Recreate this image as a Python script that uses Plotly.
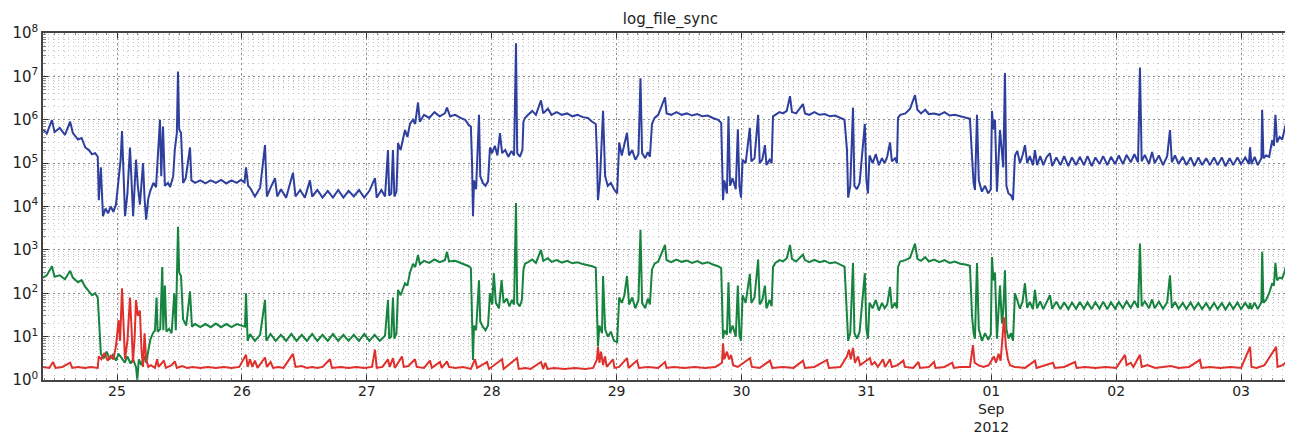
import pandas as pd
import plotly.graph_objects as go

# ---------------- data (hours since 2012-08-24 00:00, value) ----------------
blue_h = [9.8, 10.5, 11.5, 12.0, 13.0, 14.0, 15.0, 15.5, 16.5, 17.2, 17.9, 18.6, 19.2, 19.8, 20.3,
          20.5, 20.9, 21.3, 21.8, 22.3, 22.8, 23.3, 23.8, 24.2, 24.7, 24.96, 25.3, 25.55, 26.0, 26.5,
          26.9, 27.1, 27.65, 28.0, 28.4, 29.0, 29.3, 29.6, 30.0, 30.4, 31.0, 31.5, 32.26, 32.5, 32.84,
          33.2, 33.8, 34.2, 34.8, 35.1, 35.5, 35.72, 35.95, 36.3, 36.7, 37.2, 38.03, 38.3, 39, 40, 41,
          42, 43, 44, 45, 46, 47, 47.8, 48.5, 48.79, 49.2, 49.56, 50.5, 51.5, 52.44, 52.8, 53.5, 54.36,
          54.8, 55.5, 56.5, 57.82, 58.3, 59.2, 60.1, 61.08, 61.5, 62.5, 63.5, 64.5, 65.5, 66.5, 67.5,
          68.5, 69.5, 70.5, 71.5, 72.5, 73.57, 73.9, 74.8, 75.5, 76.07, 76.3, 76.7, 77.03, 77.3, 77.7,
          78.0, 78.5, 79.34, 79.8, 80.3, 80.88, 81.3, 81.84, 82.2, 83.0, 84.0, 85.0, 86.0, 87.0, 87.4,
          88.0, 89.0, 90.0, 90.9, 91.6, 92.0, 92.21, 92.41, 92.6, 93.0, 93.56, 93.8, 94.3, 94.8, 95.3,
          95.67, 96.06, 96.6, 97.1, 97.59, 98.0, 98.6, 99.2, 99.8, 100.3, 100.67, 100.9, 101.4, 101.9,
          102.1, 102.4, 103.0, 103.8, 104.5, 105.47, 105.9, 106.8, 107.5, 108.5, 109.5, 110.5, 111.5,
          112.5, 113.5, 114.5, 115.3, 116.0, 116.23, 116.42, 116.8, 117.4, 117.8, 118.3, 118.9, 119.5,
          120.1, 120.5, 121.0, 122.0, 122.4, 123.0, 123.6, 124.2, 124.59, 124.9, 125.5, 126.0, 126.4,
          126.8, 127.3, 128.0, 129.3, 129.6, 130.5, 131.5, 132.5, 133.5, 134.5, 135.5, 136.5, 137.5,
          138.5, 139.5, 140.1, 140.26, 140.45, 140.7, 141.2, 141.5, 141.8, 142.3, 142.9, 143.3, 143.6,
          143.91, 144.2, 144.8, 145.6, 145.9, 146.5, 147.2, 147.5, 148.0, 148.5, 148.8, 149.4, 149.8,
          150.05, 150.5, 151.3, 152.0, 152.7, 153.32, 153.7, 154.5, 155.82, 156.2, 157, 158, 159, 160,
          161, 162, 163, 163.8, 164.27, 164.5, 164.9, 165.43, 165.7, 166.2, 166.7, 167.7, 168.0, 168.3,
          168.6, 169.2, 169.8, 170.4, 171.0, 171.5, 172.0, 172.54, 172.9, 173.5, 173.88, 174.07, 174.5,
          175.5, 176.4, 177.34, 177.8, 178.5, 179.3, 180, 181, 182, 183, 184, 185, 186, 187, 187.9,
          188.3, 188.6, 188.86, 189.25, 189.6, 190.2, 190.8, 191.4, 191.9, 192.13, 192.4, 192.71,
          193.09, 193.67, 194.3, 194.63, 194.9, 195.3, 195.8, 196.17, 196.55, 197.0, 197.5, 198.0,
          198.47, 198.9, 199.4, 200.0, 200.39, 200.8, 201.4, 202.0, 202.6, 203.28, 203.7, 204.5, 205.3,
          206.0, 206.8, 207.5, 208.3, 209.0, 209.8, 210.5, 211.3, 212.0, 212.8, 213.5, 214.3, 215.0,
          215.8, 216.5, 217.3, 218.0, 218.8, 219.5, 220.2, 220.57, 220.9, 221.5, 222.3, 222.9, 223.4,
          224.2, 225.0, 225.8, 226.34, 226.7, 227.3, 228.0, 228.8, 229.5, 230.3, 231.0, 231.8, 232.5,
          233.3, 234.0, 234.8, 235.5, 236.3, 237.0, 237.8, 238.5, 239.3, 240.0, 240.8, 241.5, 241.72,
          242.0, 242.6, 243.2, 243.9, 244.05, 244.3, 244.8, 245.4, 245.98, 246.3, 246.6, 246.9, 247.4,
          247.9, 248.3, 248.8, 249.3]
blue_v = [6.0e5, 4.8e5, 9.8e5, 5.2e5, 6.5e5, 4.5e5, 9.0e5, 5.0e5, 3.5e5, 3.8e5, 2.3e5, 2.0e5, 1.6e5, 1.7e5, 1.4e5,
          1.4e4, 8e4, 6e3, 9e3, 7e3, 1.0e4, 7.5e3, 1.1e4, 3e4, 1.2e5, 5.5e5, 4e4, 6e3, 2e4, 2.3e5,
          2e4, 6e3, 1.2e5, 3e4, 1.1e4, 1.0e5, 1.5e4, 5e3, 1.5e4, 2.3e4, 3.5e4, 2.8e4, 1.0e6, 5e4, 7e5,
          3e4, 3.5e4, 2.8e4, 5e4, 2e5, 5e5, 1.3e7, 6e5, 5e5, 3.5e4, 4.5e4, 2.3e5, 4e4, 3.5e4, 4.0e4, 3.4e4,
          4.0e4, 3.5e4, 4.1e4, 3.4e4, 4.0e4, 3.5e4, 4.1e4, 3.6e4, 8e4, 3e4,
          2.7e4, 1.7e4, 2.7e4, 2.6e5, 1.7e4, 2.7e4, 4.5e4, 1.7e4, 2.5e4, 1.6e4, 6e4, 1.7e4, 2.4e4, 1.6e4,
          4e4, 1.7e4, 2.4e4, 1.6e4, 2.3e4, 1.6e4, 2.4e4, 1.6e4, 2.3e4, 1.7e4, 2.4e4, 1.6e4, 2.3e4, 4.5e4,
          1.6e4, 2.4e4, 1.7e4,
          2e5, 1.8e4, 2e4, 2e5, 1.7e4, 2.2e4,
          2.9e5, 2e5, 5.8e5, 4e5, 8e5, 1e6, 8e5, 2.5e6, 9e5, 1.3e6, 1.1e6, 1.5e6, 1.2e6, 1.4e6, 1.9e6,
          1.2e6, 1.3e6, 1.1e6, 1.0e6, 7.5e5, 7e5, 1.2e5, 6e3, 4e4, 2.5e4, 1.3e6, 5e4, 3.5e4, 3e4, 3.8e4,
          2.3e5, 1.7e5, 2.5e5, 1.5e5, 4.9e5, 1.7e5, 2e5, 1.4e5, 1.9e5, 1.5e5, 5.8e7, 1.7e5, 1.4e5, 2e5,
          9e5, 1.1e6, 1.3e6, 1.6e6, 1.3e6, 2.8e6, 1.4e6, 1.8e6, 1.3e6, 1.5e6, 1.3e6, 1.4e6, 1.2e6,
          1.3e6, 1.15e6, 1.1e6, 9e5, 8e5, 1.5e5, 1.4e4, 4e4, 1.6e6, 5e4, 3e4, 3.5e4, 2.5e4,
          2e4, 3e5, 1.5e5, 5e5, 1.5e5, 2e5, 1.2e5, 1.6e5, 9e6, 1.7e5, 1.3e5, 1.8e5, 1.4e5,
          8e5, 1.1e6, 1.3e6, 3.3e6, 1.4e6, 1.3e6, 1.5e6, 1.3e6, 1.4e6, 1.25e6, 1.35e6, 1.2e6, 1.25e6,
          1.1e6, 1.0e6, 8.5e5, 2e5, 1.4e4, 4e4, 2e4, 1.2e6, 3e4, 4.5e4, 2.5e4, 6e5, 3e4,
          1.6e4, 1.2e5, 1.0e5, 6.5e5, 1.1e5, 1.3e5, 1.3e6, 1.0e5, 1.2e5, 2.6e5, 9e4, 1.2e5, 1.0e5,
          1.2e6, 1.3e6, 1.5e6, 1.4e6, 1.6e6, 3.5e6, 1.5e6, 1.4e6, 2.3e6, 1.4e6, 1.3e6, 1.5e6, 1.3e6, 1.35e6,
          1.2e6, 1.25e6, 1.1e6, 1.0e6, 2e5, 1.6e4, 3e4, 1.9e6, 3e4, 2.5e4, 3.5e4, 8e5, 4e4, 2e4,
          1.5e5, 1e5, 1.6e5, 9e4, 1.3e5, 1.0e5, 1.4e5, 3e5, 1.1e5, 1.3e5, 1.0e5, 1.1e6, 1.3e6,
          1.4e6, 1.8e6, 3.7e6, 1.7e6, 1.4e6, 1.7e6, 1.35e6, 1.4e6, 1.3e6, 1.5e6, 1.25e6, 1.3e6, 1.2e6, 1.15e6, 1.05e6,
          1.4e5, 3.5e4, 2.4e4, 1.3e6, 4e4, 2.2e4, 3e4, 2.0e4, 2.5e4, 1.6e6, 6e5, 1.0e6,
          2.2e4, 5.8e5, 8e4, 1.2e7, 3e4, 2e4, 1.8e4, 1.4e4, 1.5e5, 1.9e5, 1.0e5, 1.5e5,
          2.6e5, 1.0e5, 1.45e5, 9e4, 2e5, 9e4, 1.45e5, 9e4, 1.35e5, 1.7e5, 8.5e4, 1.35e5, 9e4,
          1.45e5, 8.5e4, 1.35e5, 9e4, 1.4e5, 9e4, 1.45e5, 8.5e4, 1.35e5, 9.5e4, 1.45e5, 9e4, 1.4e5,
          9.5e4, 1.5e5, 9.5e4, 1.55e5, 1.05e5, 1.6e5, 1.05e5, 1.6e7, 1.1e5, 1.55e5, 9.5e4, 1.8e5, 1.0e5,
          1.5e5, 9e4, 1.45e5, 5.8e5, 1.05e5, 1.5e5, 9.5e4, 1.4e5, 9e4, 1.35e5, 8.5e4, 1.35e5, 9e4,
          1.3e5, 9e4, 1.35e5, 9e4, 1.35e5, 8.5e4, 1.3e5, 9e4, 1.35e5, 9.5e4, 1.35e5, 9.5e4, 2.3e5,
          9.5e4, 1.4e5, 9e4, 1.3e5, 1.7e6, 1.3e5, 1.5e5, 1.4e5, 3.4e5, 2.5e5, 1.3e6, 3e5, 4e5,
          3.5e5, 6e5, 1e6, 2.5e6]

green_h = [9.8, 10.5, 11.5, 12.0, 13.0, 14.0, 15.0, 15.5, 16.5, 17.2, 17.9, 18.6, 19.2, 19.8, 20.3,
           20.5, 20.73, 20.9, 21.5, 22.0, 22.6, 23.2, 23.8, 24.3, 24.9, 25.5, 26.0, 26.6, 27.1, 27.65,
           27.9, 28.2, 28.7, 29.2, 29.6, 30.0, 30.4, 30.9, 31.3, 31.6, 31.8, 32.3, 32.7, 32.9, 33.2,
           33.5, 34.0, 34.5, 35.0, 35.3, 35.72, 35.95, 36.3, 36.7, 37.3, 38.03, 38.4, 39, 40, 41, 42,
           43, 44, 45, 46, 47, 48.3, 48.6, 48.79, 49.1, 49.56, 50.5, 51.5, 52.44, 52.7, 53.5, 54.5,
           55.5, 56.5, 57.5, 58.5, 59.5, 60.5, 61.5, 62.5, 63.5, 64.5, 65.5, 66.5, 67.5, 68.5, 69.5,
           70.5, 71.5, 72.5, 73.5, 74.5, 75.5, 76.07, 76.3, 76.7, 77.03, 77.3, 77.7, 78.0, 78.5, 79.34,
           79.8, 80.3, 80.88, 81.3, 81.84, 82.2, 83, 84, 85, 86, 87.0, 87.41, 87.8, 89, 90, 90.9, 91.6,
           92.0, 92.21, 92.41, 92.6, 93.0, 93.56, 93.8, 94.3, 94.8, 95.3, 95.67, 96.1, 96.4, 96.8, 97.4,
           97.9, 98.3, 98.9, 99.4, 99.9, 100.3, 100.67, 100.9, 101.4, 101.8, 102.1, 102.4, 103, 103.8,
           104.5, 105.47, 105.9, 106.8, 107.5, 108.5, 109.5, 110.5, 111.5, 112.5, 113.5, 114.5, 115.3,
           116.0, 116.23, 116.42, 116.7, 117.2, 117.4, 117.8, 118.3, 118.9, 119.5, 120.1, 120.5, 121.0,
           121.5, 122.0, 122.4, 123.0, 123.6, 124.2, 124.59, 124.9, 125.5, 126.0, 126.4, 126.8, 127.3,
           128, 129.3, 129.6, 130.5, 131.5, 132.5, 133.5, 134.5, 135.5, 136.5, 137.5, 138.5, 139.5,
           140.1, 140.26, 140.45, 140.7, 141.2, 141.5, 141.8, 142.3, 142.9, 143.3, 143.6, 143.91, 144.2,
           144.8, 145.6, 145.9, 146.5, 147.2, 147.5, 148.0, 148.5, 148.8, 149.4, 149.8, 150.05, 150.5,
           151.3, 152.0, 152.7, 153.32, 153.7, 154.5, 155.82, 156.2, 157, 158, 159, 160, 161, 162, 163,
           163.8, 164.27, 164.5, 164.9, 165.43, 165.7, 166.2, 166.7, 167.7, 168.0, 168.3, 168.6, 169.2,
           169.8, 170.4, 171.0, 171.5, 172.0, 172.54, 172.9, 173.5, 173.88, 174.07, 174.5, 175.5, 176.4,
           177.34, 177.8, 178.5, 179.3, 180, 181, 182, 183, 184, 185, 186, 187, 187.9, 188.3, 188.6,
           188.86, 189.25, 189.6, 190.2, 190.8, 191.4, 191.9, 192.13, 192.4, 192.71, 193.09, 193.67,
           194.05, 194.3, 194.63, 194.9, 195.3, 195.8, 196.17, 196.55, 197.0, 197.5, 198.0, 198.47,
           198.9, 199.4, 200.0, 200.39, 200.8, 201.4, 202.0, 202.6, 203.28, 203.7, 204.5, 205.3, 206.0,
           206.8, 207.5, 208.3, 209.0, 209.8, 210.5, 211.3, 212.0, 212.8, 213.5, 214.3, 215.0, 215.8,
           216.5, 217.3, 218.0, 218.8, 219.5, 220.2, 220.57, 220.9, 221.5, 222.3, 222.9, 223.4, 224.2,
           225.0, 225.8, 226.34, 226.7, 227.3, 228.0, 228.8, 229.5, 230.3, 231.0, 231.8, 232.5, 233.3,
           234.0, 234.8, 235.5, 236.3, 237.0, 237.8, 238.5, 239.3, 240.0, 240.8, 241.5, 241.72, 242.0,
           242.6, 243.2, 243.9, 244.05, 244.3, 244.8, 245.4, 245.98, 246.3, 246.6, 246.9, 247.4, 247.9,
           248.3, 248.8, 249.3]
green_v = [230, 260, 420, 240, 260, 210, 330, 230, 180, 200, 140, 110, 90, 100, 80,
           30, 6, 4, 3.2, 4.5, 3.0, 3.8, 2.8, 4.0, 3.2, 2.5, 3.5, 2.4, 3.0, 2.0,
           1.0, 3.0, 2.2, 3.5, 2.5, 5, 8.5, 12, 14, 80, 13, 15, 400, 14, 150,
           13, 15, 12, 100, 14, 3400, 300, 250, 25, 18, 110, 17, 19.5, 16.5, 19.5, 16.5,
           20, 16.5, 19.5, 16.5, 19.5, 17, 17, 100,
           8, 11.5, 8, 11, 70, 8, 11.5, 8, 11, 8, 11.5, 8, 11, 8, 11.5, 8, 11, 8,
           11.5, 8, 11, 8, 11, 8, 11.5, 8, 11, 8, 10.5,
           70, 9, 10, 80, 9, 12, 120, 90, 170,
           150, 300, 480, 400, 760, 470, 560, 500, 600, 520, 580, 900, 540, 560, 500, 460, 420,
           380, 30, 2.9, 18, 14, 200, 22, 17, 14, 18, 100, 55, 290, 60, 45,
           200, 60, 75, 50, 70, 55, 12000, 60, 50, 70, 350, 480, 520, 600,
           500, 1000, 560, 640, 530, 580, 510, 560, 490, 520, 470, 450, 420,
           390, 30, 6, 18, 12, 250, 15, 10, 13, 8, 7.5, 80, 60,
           90, 250, 55, 80, 45, 70, 2900, 60, 45, 75, 55, 350, 480,
           540, 1300, 580, 520, 600, 530, 570, 500, 550, 480, 520, 460, 420,
           380, 40, 9, 14, 11, 180, 12, 18, 10, 150, 11, 8, 90,
           60, 280, 60, 80, 600, 55, 70, 150, 45, 70, 50, 400, 500,
           580, 540, 640, 1300, 620, 540, 780, 580, 520, 590, 520, 560, 490, 520, 450,
           410, 30, 8, 12, 500, 12, 9, 13, 290, 15, 9, 60, 45,
           70, 40, 60, 45, 55, 140, 45, 60, 45, 400, 540, 580, 660,
           1400, 620, 560, 680, 540, 600, 520, 580, 500, 540, 480, 460, 430, 30, 12,
           9, 500, 15, 8, 12, 8.5, 11, 680, 200, 300, 9, 150,
           20, 40, 340, 15, 9, 12, 8, 100, 68, 44, 64, 170,
           46, 63, 43, 120, 45, 65, 43, 63, 90, 44, 64, 43, 62,
           43, 61, 44, 63, 44, 62, 43, 62, 44, 64, 43, 62, 44,
           63, 45, 65, 46, 66, 46, 1400, 50, 65, 45, 72, 45, 64,
           44, 62, 260, 46, 63, 44, 60, 43, 61, 43, 60, 43, 59,
           42, 60, 43, 59, 42, 60, 43, 61, 43, 60, 44, 60, 43,
           61, 43, 62, 900, 60, 70, 100, 170, 150, 500, 200, 230, 220,
           300, 500, 1100]

red_h = [9.8, 11.0, 11.7, 12.2, 13.5, 15.0, 15.4, 16.5, 17.8, 19.0, 20.3, 20.5, 21.0, 21.6, 22.2,
         22.8, 23.3, 23.8, 24.3, 24.6, 24.96, 25.2, 25.54, 26.0, 26.5, 26.8, 27.07, 27.4, 27.65, 28.0,
         28.4, 28.7, 29.0, 29.3, 29.6, 30.0, 30.5, 31.3, 31.7, 32.0, 33.0, 33.4, 34.5, 35.1, 35.5,
         36.5, 37.5, 38.5, 40, 41.5, 43, 44.5, 46, 47.5, 48.79, 49.1, 49.56, 50.0, 50.5, 51.0, 52.44,
         52.8, 53.5, 54.0, 55.0, 56.0, 57.82, 58.3, 59.5, 60.5, 61.5, 62.5, 63.5, 64.93, 65.3, 67, 68.5,
         70, 71.5, 73, 73.57, 73.9, 75, 76.07, 76.4, 77.03, 77.4, 78.76, 79.1, 80.0, 81.26, 81.6, 83,
         84.14, 84.5, 86.06, 86.4, 87.41, 87.8, 89, 90.5, 92.0, 92.79, 93.2, 95.10, 95.5, 97.99, 98.3,
         100.86, 101.2, 102.5, 103.5, 105.47, 105.9, 106.3, 106.7, 108, 110, 112, 114, 115.5, 116.23,
         116.42, 116.7, 117.0, 117.4, 117.77, 118.1, 119.31, 119.6, 120.5, 122.0, 122.3, 123.92, 124.3,
         126, 128, 129.3, 129.6, 131, 133, 135, 137, 139, 140.26, 140.45, 140.7, 141.2, 141.6, 142.0,
         142.4, 143.3, 145.63, 146.0, 147.5, 149.48, 149.9, 152, 154, 155.82, 156.2, 158, 160.43, 160.8,
         163, 164.27, 164.66, 165.0, 165.43, 165.8, 166.4, 166.8, 168.69, 169.0, 169.6, 170.2, 171.19,
         171.6, 172.54, 172.9, 174.0, 175.1, 175.4, 177.0, 178.0, 178.3, 180, 181.0, 181.3, 183, 184.5,
         184.8, 186, 187.9, 188.48, 188.8, 189.5, 190.5, 191.5, 192.5, 192.9, 193.4, 193.8, 194.45,
         194.8, 195.2, 195.6, 196.5, 198.5, 200.39, 200.7, 203.86, 204.2, 206, 208.08, 208.4, 210, 212,
         214, 216, 217.69, 218.0, 218.8, 219.3, 220.57, 220.9, 222, 223.5, 225, 226.5, 228, 230, 232.1,
         232.4, 234, 236, 238, 240, 241.72, 242.0, 243, 244.5, 246.74, 247.0, 248, 249.3]
red_v = [2.0, 1.9, 2.6, 1.9, 2.0, 2.5, 1.9, 2.0, 1.9, 2.0, 1.9, 3.5, 3.0, 4.2, 2.8,
         3.6, 3.0, 6, 24, 8, 130, 20, 3, 8, 80, 15, 2.5, 10, 70, 30,
         40, 5, 2.0, 12, 3, 2.0, 2.2, 1.9, 3.0, 2.0, 2.8, 1.9, 2.2, 2.7, 1.9,
         2.1, 1.9, 2.0, 1.9, 2.0, 1.9, 2.0, 1.9, 2.0, 3.8, 2.0, 3.0, 2.0, 2.8, 1.9, 3.3,
         2.0, 2.6, 1.9, 2.0, 1.9, 4.0, 2.0, 2.1, 1.9, 2.0, 1.9, 2.0, 3.0, 1.9, 2.0, 1.9,
         2.0, 1.9, 2.0, 5.0, 1.9, 2.0, 3.0, 2.0, 3.2, 1.9, 3.5, 2.0, 2.1, 3.0, 2.0, 1.9,
         2.8, 1.9, 2.6, 1.9, 2.7, 2.0, 1.9, 2.0, 1.8, 3.0, 1.9, 2.6, 1.8, 3.0, 1.8,
         3.2, 1.8, 1.9, 1.8, 2.6, 1.8, 2.5, 1.8, 1.9, 1.8, 1.9, 1.8, 1.9, 3.0,
         5.8, 2.5, 4.5, 2.2, 3.5, 2.0, 3.0, 1.9, 2.0, 3.2, 1.9, 2.8, 1.9,
         2.0, 1.9, 2.6, 1.9, 2.0, 1.9, 2.0, 1.9, 2.0, 2.5, 7, 3, 4.5, 3, 3.8,
         2.2, 2.0, 3.2, 2.0, 1.9, 2.8, 1.9, 2.0, 1.9, 2.8, 1.9, 2.0, 2.9, 1.9,
         2.0, 3.5, 5.0, 3.0, 5.5, 2.5, 3.5, 2.2, 3.2, 2.2, 2.6, 2.0, 3.0,
         2.0, 3.0, 2.0, 2.2, 2.8, 2.0, 1.9, 2.6, 1.9, 2.0, 2.6, 1.9, 2.0, 2.5,
         1.9, 2.0, 2.0, 6.4, 2.5, 2.2, 2.0, 2.2, 3.5, 2.5, 4.0, 2.8, 28,
         6, 3, 2.2, 2.0, 1.9, 2.8, 1.9, 2.5, 1.9, 2.0, 2.6, 1.9, 2.0, 1.9,
         2.0, 1.9, 3.8, 2.2, 2.5, 2.0, 3.8, 2.0, 2.2, 1.9, 2.0, 2.1, 1.9, 2.0, 2.9,
         1.9, 2.0, 1.9, 2.0, 1.9, 5.8, 2.0, 1.9, 2.2, 5.8, 2.0, 2.2, 3.0]

day_ticks = ["2012-08-25", "2012-08-26", "2012-08-27", "2012-08-28", "2012-08-29",
             "2012-08-30", "2012-08-31", "2012-09-01", "2012-09-02", "2012-09-03"]
day_labels = ["25", "26", "27", "28", "29", "30", "31", "01<br>Sep<br>2012", "02", "03"]
y_ticks = [1, 10, 100, 1e3, 1e4, 1e5, 1e6, 1e7, 1e8]
y_labels = ["10<sup>%d</sup>" % i for i in range(9)]

assert len(blue_h) == len(blue_v), (len(blue_h), len(blue_v))
assert len(green_h) == len(green_v), (len(green_h), len(green_v))
assert len(red_h) == len(red_v), (len(red_h), len(red_v))

# ---------------- figure ----------------
t0 = pd.Timestamp("2012-08-24")
def to_time(hours):
    return t0 + pd.to_timedelta(hours, unit="h")

fig = go.Figure()
for hs, vs, col in [(blue_h, blue_v, "#2f3f9e"), (green_h, green_v, "#16833f"), (red_h, red_v, "#e0302c")]:
    fig.add_trace(go.Scatter(x=to_time(hs), y=vs, mode="lines",
                             line=dict(color=col, width=2.0), showlegend=False))

minor_y = [k * 10 ** n for n in range(8) for k in range(2, 10)]
grid_major = "#8c8c8c"
grid_minor = "#c4c4c4"

# the page body adds an 8px margin, so the figure is sized to fit the window
fig.update_layout(
    width=1285, height=428,
    margin=dict(l=35, r=3, t=25, b=56),
    paper_bgcolor="white", plot_bgcolor="white",
    font=dict(family="DejaVu Sans", size=13, color="#222"),
    title=dict(text="log_file_sync", x=0.5155, xanchor="center", y=0.974, yanchor="middle",
               yref="container", font=dict(size=15, color="#222")),
)
fig.update_xaxes(
    type="date", automargin=False,
    range=[to_time(9.78), to_time(249.4)],
    tickmode="array", tickvals=day_ticks, ticktext=day_labels,
    ticks="inside", ticklen=5, tickcolor="#333", ticklabelstandoff=-3,
    showline=True, linecolor="#444", linewidth=1.5, mirror="ticks",
    showgrid=True, gridcolor=grid_major, griddash="2px,3px", gridwidth=1,
    tickfont=dict(size=14, color="#222"),
    minor=dict(dtick=3600000 * 2, ticks="inside", ticklen=2, tickcolor="#888",
               showgrid=True, gridcolor=grid_minor, griddash="1px,5px", gridwidth=1),
    zeroline=False,
)
fig.update_yaxes(
    type="log", range=[0, 8], automargin=False,
    tickmode="array", tickvals=y_ticks, ticktext=y_labels,
    ticks="inside", ticklen=5, tickcolor="#333",
    showline=True, linecolor="#444", linewidth=1.5, mirror="ticks",
    showgrid=True, gridcolor=grid_major, griddash="2px,3px", gridwidth=1,
    tickfont=dict(size=15, color="#222"),
    minor=dict(tickmode="array", tickvals=minor_y, ticks="inside", ticklen=3, tickcolor="#888",
               showgrid=True, gridcolor=grid_minor, griddash="1px,4px", gridwidth=1),
    zeroline=False,
)

fig.write_html("out.html")
